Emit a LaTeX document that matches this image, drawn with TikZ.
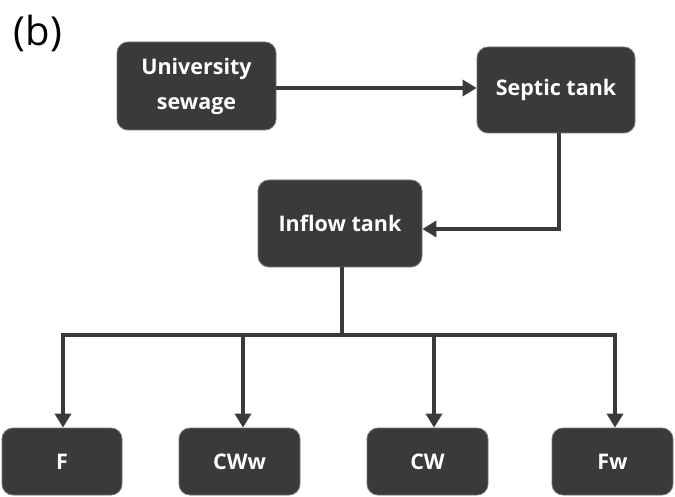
\documentclass[tikz,border=0pt]{standalone}
\usepackage{fontspec}
\setmainfont{Open Sans}
\usetikzlibrary{arrows.meta}
\definecolor{boxc}{HTML}{3A3A3A}
\begin{document}
\begin{tikzpicture}[x=1pt,y=-1pt,
  box/.style={draw=boxc!70!white,line width=0.8pt,fill=boxc,rounded corners=11pt,text=white,font=\fontsize{21.5}{35}\selectfont\bfseries,align=center,inner sep=0pt},
  conn/.style={draw=boxc,line width=4.5pt,-{Triangle[length=14pt,width=16pt]}},
  plain/.style={draw=boxc,line width=4.5pt}]
\useasboundingbox (0,0) rectangle (675,497);
\node (lab) at (38,33) {\fontsize{40}{44}\selectfont (b)};
\node[box,minimum width=159pt,minimum height=88pt] (uni) at (196.5,86) {University\\sewage};
\node[box,minimum width=158pt,minimum height=86pt] (sep) at (556,90) {Septic tank};
\node[box,minimum width=164pt,minimum height=87pt] (inf) at (340,223.5) {Inflow tank};
\node[box,minimum width=120pt,minimum height=67pt] (f) at (62,461.5) {F};
\node[box,minimum width=121pt,minimum height=67pt] (cww) at (239.5,461.5) {CWw};
\node[box,minimum width=121pt,minimum height=67pt] (cw) at (427.5,461.5) {CW};
\node[box,minimum width=121pt,minimum height=67pt] (fw) at (612.5,461.5) {Fw};
\coordinate (j) at (342,335);
\coordinate (jl) at (63,335);
\coordinate (jr) at (615,335);
\draw[conn] (uni.east |- 0,88) -- (sep.west |- 0,88);
\draw[conn] (559,133) |- (inf.east |- 0,229);
\draw[plain] (342,267) -- (j);
\draw[plain,line cap=rect] (jl) -- (jr);
\draw[conn] (jl) -- (f.north -| jl);
\draw[conn] (243,335) -- (cww.north -| 243,0);
\draw[conn] (434,335) -- (cw.north -| 434,0);
\draw[conn] (jr) -- (fw.north -| jr);
\end{tikzpicture}
\end{document}
